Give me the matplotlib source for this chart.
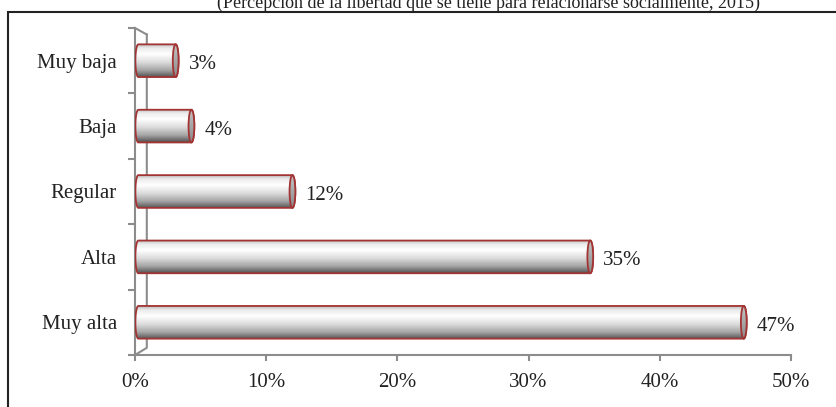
import numpy as np
import matplotlib.pyplot as plt
from matplotlib.patches import Polygon, Ellipse, Rectangle
from matplotlib.colors import LinearSegmentedColormap

categorias = ['Muy alta', 'Alta', 'Regular', 'Baja', 'Muy baja']
valores = [46.4, 34.7, 12.0, 4.3, 3.1]
etiquetas = ['47%', '35%', '12%', '4%', '3%']
ticks_x = [0, 10, 20, 30, 40, 50]
titulo = '(Percepción de la libertad que se tiene para relacionarse socialmente, 2015)'

plt.rcParams['font.family'] = ['Liberation Serif', 'DejaVu Serif']

fig = plt.figure(figsize=(8.36, 4.07), dpi=100)
ax = fig.add_axes([135/836, 52/407, 656/836, 327/407])

# marco exterior
fig.patches.append(Rectangle((8/836, -0.1), 1.2, (407-12)/407 + 0.1, transform=fig.transFigure,
                             fill=False, edgecolor='#222222', linewidth=1.5))
fig.text(488/836, 8/407 * -1 + 1.0, titulo, ha='center', va='baseline', fontsize=13, color='#222222')

ax.set_xlim(0, 50)
ax.set_ylim(-0.5, 4.5)

grad = LinearSegmentedColormap.from_list('cil', [
    (0.0, '#bdbdbd'), (0.12, '#ececec'), (0.3, '#ffffff'),
    (0.55, '#dcdcdc'), (0.8, '#a4a4a4'), (1.0, '#555555')])
img = np.linspace(0, 1, 100).reshape(-1, 1)
tapa_grad = LinearSegmentedColormap.from_list('tapa', ['#c4c4c4', '#8a8a8a'])

h = 0.5
a = 0.22  # semieje de la tapa
ini = 0.25
t = np.linspace(-np.pi/2, np.pi/2, 40)
for i, v in enumerate(valores):
    # contorno del cilindro: lado derecho de arriba a abajo, izquierdo de abajo a arriba
    der = np.column_stack([v + a*np.cos(t), i - (h/2)*np.sin(t)])
    izq = np.column_stack([ini - a*np.cos(t), i + (h/2)*np.sin(t)])
    pts = np.vstack([der, izq])
    cuerpo = Polygon(pts, closed=True, facecolor='none', edgecolor='#a33434', linewidth=1.3, zorder=3)
    ax.add_patch(cuerpo)
    im = ax.imshow(img, cmap=grad, extent=[ini - a, v + a, i - h/2, i + h/2],
                   aspect='auto', origin='upper', zorder=2)
    im.set_clip_path(cuerpo)
    tapa = Ellipse((v, i), 2*a, h, facecolor='none', edgecolor='#a33434', linewidth=1.3, zorder=5)
    ax.add_patch(tapa)
    im2 = ax.imshow(img, cmap=tapa_grad, extent=[v - a, v + a, i - h/2, i + h/2],
                    aspect='auto', origin='upper', zorder=4)
    im2.set_clip_path(tapa)
    ax.text(v + 1.0, i - 0.06, etiquetas[i], ha='left', va='center', fontsize=15, color='#222222')

ax.set_xlim(0, 50)
ax.set_ylim(-0.5, 4.5)

# pared y piso 3D
gris = '#8c8c8c'
ax.plot([0, 0.9, 0.9], [-0.5, -0.39, 4.4], color=gris, linewidth=1.5, clip_on=False, zorder=1)
ax.plot([0, 0.9], [4.5, 4.4], color=gris, linewidth=1.5, clip_on=False, zorder=1)

for s in ['top', 'right']:
    ax.spines[s].set_visible(False)
for s in ['left', 'bottom']:
    ax.spines[s].set_color(gris)
    ax.spines[s].set_linewidth(1.5)

ax.set_xticks(ticks_x)
ax.set_xticklabels([f'{x}%' for x in ticks_x], fontsize=15)
ax.set_yticks(range(len(categorias)))
ax.set_yticklabels(categorias, fontsize=15)
ax.set_yticks(np.arange(-0.5, 5, 1), minor=True)
ax.tick_params(axis='y', which='major', length=0, pad=13)
ax.tick_params(axis='y', which='minor', length=5, width=1.5)
ax.tick_params(axis='x', length=4, width=1.5, pad=9, direction='out')
ax.tick_params(axis='both', which='both', color=gris, labelcolor='#222222')

fig.savefig('out.png', dpi=100)
